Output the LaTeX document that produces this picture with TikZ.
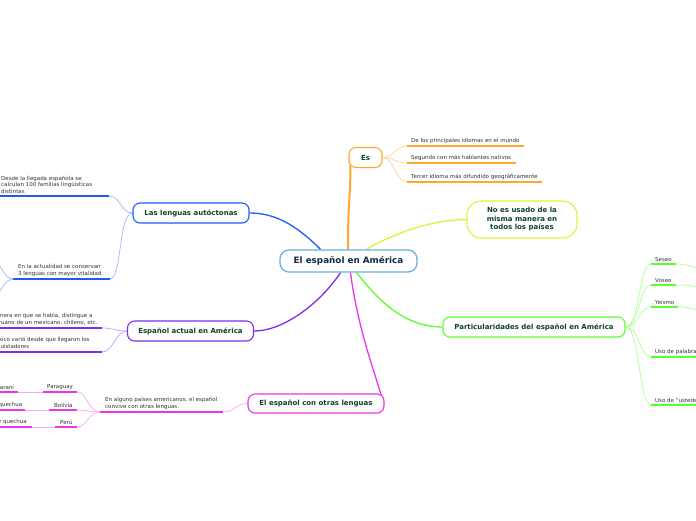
\documentclass[tikz,border=0pt]{standalone}
\usepackage{fontspec}
\setmainfont{DejaVu Sans}
\usetikzlibrary{backgrounds}
\definecolor{cblue}{HTML}{1E5BFF}
\definecolor{cbluel}{HTML}{9FB9FF}
\definecolor{corange}{HTML}{FFA82E}
\definecolor{corangel}{HTML}{FFD596}
\definecolor{cyg}{HTML}{D8F53C}
\definecolor{cgreen}{HTML}{5CFF2E}
\definecolor{cgreenl}{HTML}{ADFF94}
\definecolor{cpurple}{HTML}{7B2FF2}
\definecolor{cpurplel}{HTML}{BBA0F8}
\definecolor{cmag}{HTML}{EE33EE}
\definecolor{cmagl}{HTML}{F8A8F8}
\definecolor{ccentral}{HTML}{6AB0E0}
\definecolor{topictext}{HTML}{10402F}
\definecolor{centraltext}{HTML}{14284B}
\definecolor{subtext}{HTML}{333333}
\begin{document}
\begin{tikzpicture}[x=1pt,y=-1pt,
 topic/.style={draw, fill=white, rounded corners=7pt, line width=1.1pt, inner sep=0pt, text=topictext, font=\bfseries\fontsize{7}{8.5}\selectfont, align=center},
 sub/.style={inner sep=0pt, anchor=south west, align=left, text=subtext, font=\fontsize{5.5}{6.5}\selectfont},
 subr/.style={sub, anchor=south east, align=right},
 uline/.style={line width=1.7pt},
 link/.style={line width=0.7pt},
 branch/.style={line width=1.3pt}]
\useasboundingbox (0,0) rectangle (696,520);

% main topics
\node[topic, draw=ccentral, line width=1.3pt, rounded corners=9pt, minimum width=137pt, minimum height=22pt, text=centraltext, font=\bfseries\fontsize{8.8}{10}\selectfont] (c) at (348.5,261) {El español en América};
\node[topic, draw=corange, minimum width=33pt, minimum height=20pt] (es) at (365.5,157.5) {Es};
\node[topic, draw=cyg, rounded corners=14pt, minimum width=110pt, minimum height=37pt] (no) at (522,219.5) {No es usado de la\\misma manera en\\ todos los países};
\node[topic, draw=cgreen, minimum width=182pt, minimum height=20pt] (part) at (534,327) {Particularidades del español en América};
\node[topic, draw=cblue, minimum width=116pt, minimum height=20pt] (len) at (191,213) {Las lenguas autóctonas};
\node[topic, draw=cpurple, minimum width=126pt, minimum height=20pt] (act) at (190.5,331) {Español actual en América};
\node[topic, draw=cmag, minimum width=136pt, minimum height=19pt] (otr) at (316,403.5) {El español con otras lenguas};

% underline coordinates
\coordinate (es1s) at (407,146); \coordinate (es1e) at (524,146);
\coordinate (es2s) at (407,163); \coordinate (es2e) at (516,163);
\coordinate (es3s) at (407,182); \coordinate (es3e) at (542,182);

\coordinate (g1s) at (651,264); \coordinate (g1e) at (676,264); \coordinate (g1x) at (700,269);
\coordinate (g2s) at (651,285); \coordinate (g2e) at (676,285); \coordinate (g2x) at (700,288);
\coordinate (g3s) at (651,307); \coordinate (g3e) at (678,307); \coordinate (g3x) at (700,311);
\coordinate (g4s) at (651,357); \coordinate (g4e) at (700,357);
\coordinate (g5s) at (651,405); \coordinate (g5e) at (700,405);

\coordinate (l1s) at (-3,196); \coordinate (l1e) at (109,196);
\coordinate (l2s) at (13,279); \coordinate (l2e) at (110,279);
\coordinate (l2a) at (-3,261); \coordinate (l2b) at (-3,296);

\coordinate (a1s) at (-3,328); \coordinate (a1e) at (102,328);
\coordinate (a2s) at (-3,352); \coordinate (a2e) at (102,352);

\coordinate (m1s) at (100,412); \coordinate (m1e) at (223,412);
\coordinate (pys) at (43,392); \coordinate (pye) at (77,392);
\coordinate (gus) at (-3,392); \coordinate (gue) at (18,392);
\coordinate (bos) at (49,410); \coordinate (boe) at (77,410);
\coordinate (bqs) at (-3,410); \coordinate (bqe) at (25,410);
\coordinate (pes) at (55,427); \coordinate (pee) at (77,427);
\coordinate (pqs) at (-3,427); \coordinate (pqe) at (32,427);

% texts
\node[sub] (es1) at (411,143.5) {De los principales idiomas en el mundo};
\node[sub] (es2) at (411,160.5) {Segundo con más hablantes nativos};
\node[sub] (es3) at (411,179.5) {Tercer idioma más difundido geográficamente};

\node[sub] (g1) at (655,261.5) {Seseo};
\node[sub] (g2) at (655,282.5) {Voseo};
\node[sub] (g3) at (655,304.5) {Yeísmo};
\node[sub] (g4) at (655,354.5) {Uso de palabras};
\node[sub] (g5) at (655,402.5) {Uso de “ustedes”};

\node[sub] (l1) at (1,193.5) {Desde la llegada española se\\calculan 100 familias lingüísticas\\distintas};
\node[sub] (l2) at (18,276.5) {En la actualidad se conservan\\3 lenguas con mayor vitalidad};

\node[sub] (a1) at (-17,325.5) {La manera en que se habla, distingue a\\un peruano de un mexicano, chileno, etc.};
\node[sub] (a2) at (-13,349.5) {El léxico varió desde que llegaron los\\conquistadores};

\node[sub] (m1) at (105,409.5) {En alguno países americanos, el español\\convive con otras lenguas.};
\node[sub] (py) at (47,389.5) {Paraguay};
\node[sub] (gu) at (-8,389.5) {Guaraní};
\node[sub] (bo) at (54,407.5) {Bolivia};
\node[subr] (bq) at (22.5,407.5) {Aimara y quechua};
\node[sub] (pe) at (60,424.5) {Perú};
\node[subr] (pq) at (27,424.5) {Aimara y quechua};

\begin{scope}[on background layer]
\fill[white] (0,0) rectangle (696,520);
% main branches
\draw[cblue, branch] ([xshift=-28pt]c.north) .. controls +(-25,-25) and +(25,0) .. (len.east);
\draw[corange, line width=2pt] ([xshift=-0.5pt]c.north) .. controls +(0,-50) and +(0,35) .. ([xshift=2pt,yshift=4pt]es.south west);
\draw[cyg, branch] ([xshift=18pt]c.north) .. controls +(25,-15) and +(-35,0) .. (no.west);
\draw[cgreen, branch] ([xshift=8pt]c.south) .. controls +(20,25) and +(-40,0) .. (part.west);
\draw[cpurple, branch] ([xshift=-8pt]c.south) .. controls +(-20,30) and +(30,0) .. (act.east);
\draw[cmag, branch] ([xshift=2pt]c.south) .. controls +(8,60) and +(-8,-30) .. ([xshift=-1pt]otr.east);

% Es
\foreach \i in {1,2,3}{
  \draw[corangel, link] (es.east) .. controls +(12,0) and +(-12,0) .. (es\i s);
  \draw[corange, uline] (es\i s) -- (es\i e);
}
% Particularidades
\foreach \i in {1,2,3,4,5}{
  \draw[cgreenl, link] (part.east) .. controls +(14,0) and +(-12,0) .. (g\i s);
  \draw[cgreen, uline] (g\i s) -- (g\i e);
}
\foreach \i in {1,2,3}{
  \draw[cgreenl, link] (g\i e) .. controls +(10,0) and +(-10,-3) .. (g\i x);
}
% Lenguas
\draw[cbluel, link] (len.west) .. controls +(-12,0) and +(12,0) .. (l1e);
\draw[cbluel, link] (len.west) .. controls +(-14,0) and +(12,0) .. (l2e);
\draw[cblue, uline] (l1s) -- (l1e);
\draw[cblue, uline] (l2s) -- (l2e);
\draw[cbluel, link] (l2s) .. controls +(-7,0) and +(5,8) .. (l2a);
\draw[cbluel, link] (l2s) .. controls +(-7,0) and +(5,-8) .. (l2b);
% Actual
\draw[cpurplel, link] (act.west) .. controls +(-12,0) and +(12,0) .. (a1e);
\draw[cpurplel, link] (act.west) .. controls +(-12,0) and +(12,0) .. (a2e);
\draw[cpurple, uline] (a1s) -- (a1e);
\draw[cpurple, uline] (a2s) -- (a2e);
% Otras lenguas
\draw[cmagl, link] (otr.west) .. controls +(-12,0) and +(12,0) .. (m1e);
\draw[cmag, uline] (m1s) -- (m1e);
\draw[cmagl, link] (m1s) .. controls +(-12,0) and +(10,0) .. (pye);
\draw[cmagl, link] (m1s) .. controls +(-12,0) and +(10,0) .. (boe);
\draw[cmagl, link] (m1s) .. controls +(-12,0) and +(10,0) .. (pee);
\draw[cmag, uline] (pys) -- (pye);
\draw[cmag, uline] (bos) -- (boe);
\draw[cmag, uline] (pes) -- (pee);
\draw[cmagl, link] (pys) -- (gue);
\draw[cmagl, link] (bos) -- (bqe);
\draw[cmagl, link] (pes) -- (pqe);
\draw[cmag, uline] (gus) -- (gue);
\draw[cmag, uline] (bqs) -- (bqe);
\draw[cmag, uline] (pqs) -- (pqe);
\end{scope}
\end{tikzpicture}
\end{document}
